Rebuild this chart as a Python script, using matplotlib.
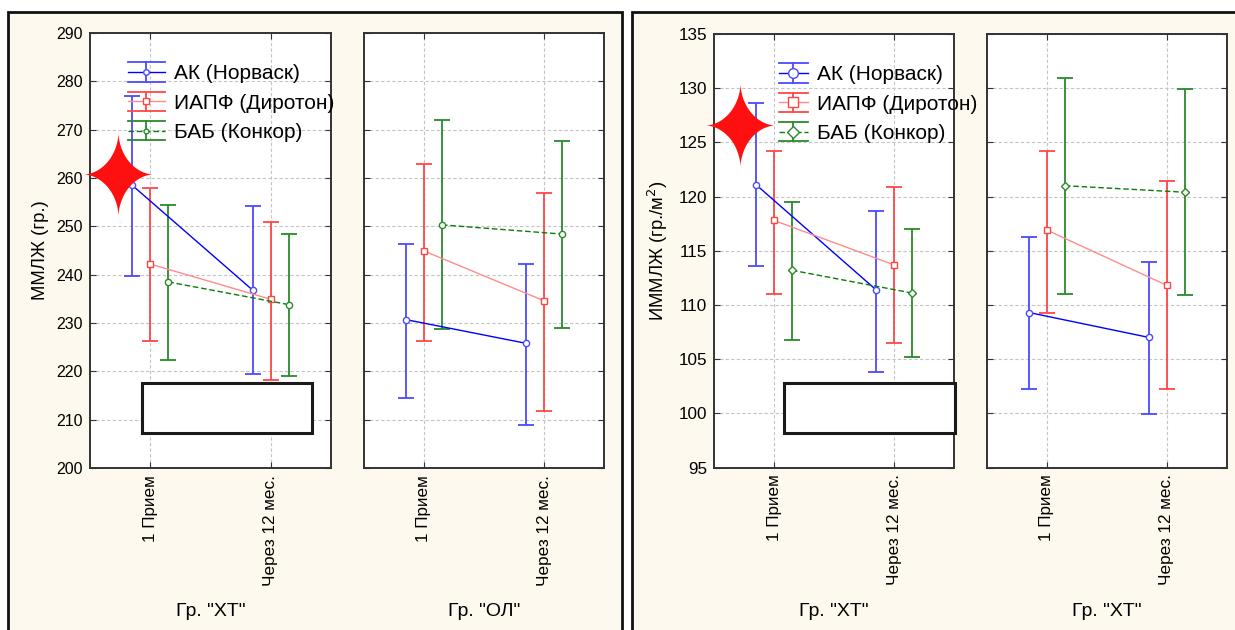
import numpy as np
import matplotlib.pyplot as plt
from matplotlib.patches import Rectangle
from matplotlib.path import Path
from matplotlib.lines import Line2D
from matplotlib.legend_handler import HandlerBase

plt.rcParams['font.family'] = ['Liberation Sans', 'DejaVu Sans']

# ---- данные ----
times = ['1 Прием', 'Через 12 мес.']
series = ['АК (Норваск)', 'ИАПФ (Диротон)', 'БАБ (Конкор)']

# ММЛЖ, гр. "ХТ"  (строки: АК, ИАПФ, БАБ; столбцы: 1 прием, 12 мес.)
mmlj_ht_mean = [[258.5, 236.8], [242.2, 234.9], [238.5, 233.8]]
mmlj_ht_lo = [[239.7, 219.5], [226.3, 218.3], [222.3, 219.1]]
mmlj_ht_hi = [[277.0, 254.3], [257.9, 251.0], [254.5, 248.5]]

# ММЛЖ, гр. "ОЛ"
mmlj_ol_mean = [[230.7, 225.8], [244.9, 234.6], [250.3, 248.4]]
mmlj_ol_lo = [[214.5, 209.0], [226.2, 211.8], [228.8, 229.0]]
mmlj_ol_hi = [[246.4, 242.2], [263.0, 256.9], [272.0, 267.7]]

# ИММЛЖ, левая группа "ХТ"
immlj_a_mean = [[121.1, 111.4], [117.8, 113.7], [113.2, 111.1]]
immlj_a_lo = [[113.6, 103.8], [111.0, 106.5], [106.8, 105.2]]
immlj_a_hi = [[128.6, 118.7], [124.2, 120.9], [119.5, 117.0]]

# ИММЛЖ, правая группа "ХТ"
immlj_b_mean = [[109.3, 107.0], [116.9, 111.8], [121.0, 120.4]]
immlj_b_lo = [[102.2, 99.9], [109.3, 102.2], [111.0, 110.9]]
immlj_b_hi = [[116.3, 114.0], [124.2, 121.4], [130.9, 129.9]]

# ---- стиль ----
bar_colors = ['#4a4aff', '#ff4646', '#2a8a2a']
line_colors = ['#0000ff', '#ff8c8c', '#0a7d0a']
line_styles = ['-', '-', (0, (4, 2))]
offsets = [-0.15, 0.0, 0.15]
bg = '#fef9ee'

# четырехлучевая звезда
t = np.linspace(0, 2 * np.pi, 240)
sx = 0.83 * np.sign(np.cos(t)) * np.abs(np.cos(t)) ** 3.4
sy = np.sign(np.sin(t)) * np.abs(np.sin(t)) ** 3.4
star = Path(np.column_stack([sx, sy]), closed=True)


class LegendKey:
    def __init__(self, i, marker, ms):
        self.i = i
        self.marker = marker
        self.ms = ms


class ErrHandler(HandlerBase):
    # значок легенды: широкие "усы" сверху и снизу, линия с маркером по центру
    def create_artists(self, legend, h, xd, yd, w, ht, fs, trans):
        i = h.i
        yc = ht / 2 - yd
        half = 0.66 * ht
        x0, x1 = -xd, -xd + w
        xm = (x0 + x1) / 2
        arts = [
            Line2D([x0, x1], [yc + half] * 2, color=bar_colors[i], lw=1.3),
            Line2D([x0, x1], [yc - half] * 2, color=bar_colors[i], lw=1.3),
            Line2D([xm, xm], [yc - half, yc + half], color=bar_colors[i], lw=1.3),
            Line2D([x0, x1], [yc] * 2, color=line_colors[i], lw=1.0,
                   ls=line_styles[i]),
            Line2D([xm], [yc], marker=h.marker, ms=h.ms, mfc='white',
                   mec=bar_colors[i], ls='none'),
        ]
        for a in arts:
            a.set_transform(trans)
        return arts


def draw_panel(ax, mean, lo, hi, markers, ms):
    x = np.arange(len(times))
    for i, name in enumerate(series):
        m = np.array(mean[i])
        err = [m - np.array(lo[i]), np.array(hi[i]) - m]
        ax.errorbar(x + offsets[i], m, yerr=err, ls=line_styles[i],
                    marker=markers[i], color=line_colors[i],
                    ecolor=bar_colors[i], mec=bar_colors[i], mfc='white',
                    ms=ms, lw=1.0, elinewidth=1.3, capsize=5.5,
                    capthick=1.3, zorder=3)
    ax.set_xlim(-0.5, 1.5)
    ax.set_xticks(x)
    ax.set_xticklabels(times, rotation=90, fontsize=12.3, va='top')
    ax.set_facecolor('white')
    ax.grid(True, color='#c4c4c4', ls=(0, (3, 2)), lw=0.8)
    ax.tick_params(direction='in', length=4, top=True, right=True,
                   color='#333333', pad=5)
    for sp in ax.spines.values():
        sp.set_color('#333333')
        sp.set_linewidth(1.4)


fig = plt.figure(figsize=(12.35, 6.3), dpi=100)
fig.patch.set_facecolor('white')

# фоновые рамки двух половин
for x0, x1 in [(8, 622), (632, 1245)]:
    fig.patches.append(Rectangle((x0 / 1235, -0.05), (x1 - x0) / 1235,
                                 1 - 12 / 630 + 0.05, transform=fig.transFigure,
                                 facecolor=bg, edgecolor='#111111', lw=2, zorder=-10))

H = 630
W = 1235
axA = fig.add_axes([90 / W, 1 - 468 / H, 241 / W, 435 / H])
axB = fig.add_axes([364 / W, 1 - 468 / H, 240 / W, 435 / H])
axC = fig.add_axes([714 / W, 1 - 467.5 / H, 240 / W, 433.5 / H])
axD = fig.add_axes([987 / W, 1 - 467.5 / H, 240 / W, 433.5 / H])

draw_panel(axA, mmlj_ht_mean, mmlj_ht_lo, mmlj_ht_hi, ['o', 's', 'o'], 4.5)
draw_panel(axB, mmlj_ol_mean, mmlj_ol_lo, mmlj_ol_hi, ['o', 's', 'o'], 4.5)
draw_panel(axC, immlj_a_mean, immlj_a_lo, immlj_a_hi, ['o', 's', 'D'], 4.5)
draw_panel(axD, immlj_b_mean, immlj_b_lo, immlj_b_hi, ['o', 's', 'D'], 4.5)

for ax in (axA, axB):
    ax.set_ylim(200, 290)
    ax.set_yticks(np.arange(200, 291, 10))
for ax in (axC, axD):
    ax.set_ylim(95, 135)
    ax.set_yticks(np.arange(95, 136, 5))
axA.tick_params(axis='y', labelsize=11.5)
axC.tick_params(axis='y', labelsize=12.3)
axB.tick_params(labelleft=False)
axD.tick_params(labelleft=False)

axA.set_ylabel('ММЛЖ (гр.)', fontsize=13.3, labelpad=5)
axC.set_ylabel('ИММЛЖ (гр./м$^2$)', fontsize=13.3, labelpad=6)

for ax, txt in [(axA, 'Гр. "ХТ"'), (axB, 'Гр. "ОЛ"'), (axC, 'Гр. "ХТ"'), (axD, 'Гр. "ХТ"')]:
    p = ax.get_position()
    fig.text(p.x0 + p.width / 2, 1 - 612 / H, txt, ha='center', va='center',
             fontsize=14)

# легенды
keysA = [LegendKey(0, 'o', 4), LegendKey(1, 's', 4), LegendKey(2, 'o', 3.5)]
keysC = [LegendKey(0, 'o', 7), LegendKey(1, 's', 7), LegendKey(2, 'D', 6)]
hm = ErrHandler()
axA.legend(keysA, series, handler_map={LegendKey: hm}, loc='upper left',
           bbox_to_anchor=(0.158, 0.928), frameon=False, fontsize=15,
           handlelength=1.75, handletextpad=0.45, labelspacing=0.5,
           borderaxespad=0, borderpad=0)
axC.legend(keysC, series, handler_map={LegendKey: hm}, loc='upper left',
           bbox_to_anchor=(0.27, 0.928), frameon=False, fontsize=15,
           handlelength=1.4, handletextpad=0.45, labelspacing=0.5,
           borderaxespad=0, borderpad=0)

# красные звезды
axA.plot([0.116], [0.676], marker=star, ms=60, color='#ff1010', mec='none',
         transform=axA.transAxes, clip_on=False, zorder=6)
axC.plot([0.108], [0.791], marker=star, ms=60, color='#ff1010', mec='none',
         transform=axC.transAxes, clip_on=False, zorder=6)

# белые прямоугольники
axA.add_patch(Rectangle((0.217, 0.081), 0.705, 0.114, transform=axA.transAxes,
                        facecolor='white', edgecolor='#1a1a1a', lw=2.2,
                        zorder=7, clip_on=False))
axC.add_patch(Rectangle((0.293, 0.080), 0.711, 0.114, transform=axC.transAxes,
                        facecolor='white', edgecolor='#1a1a1a', lw=2.2,
                        zorder=7, clip_on=False))

fig.savefig('out.png', dpi=100, facecolor=fig.get_facecolor())
